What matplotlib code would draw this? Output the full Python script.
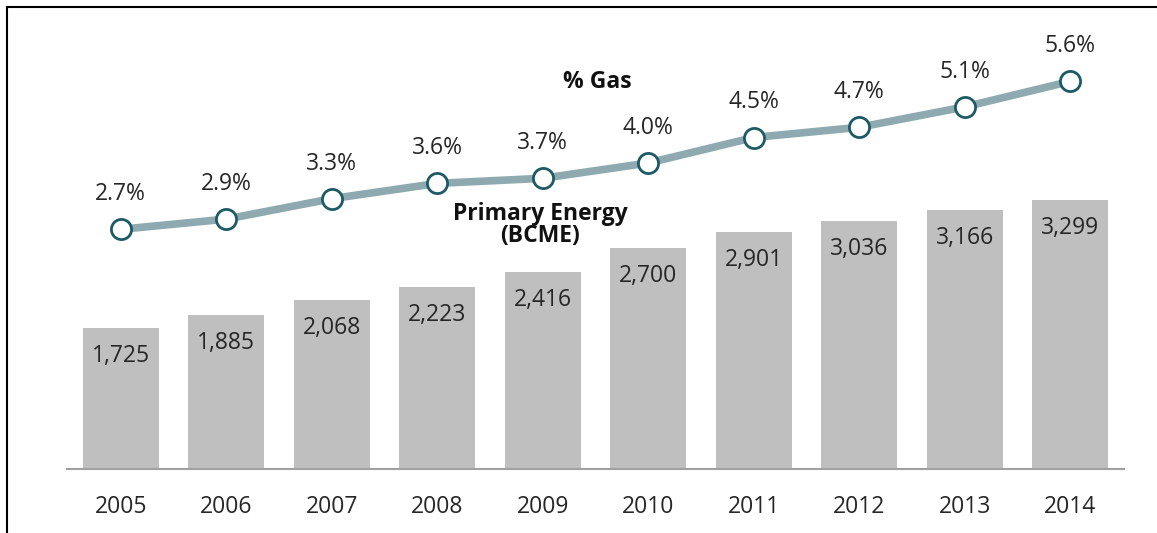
import matplotlib.pyplot as plt
from matplotlib.lines import Line2D

years = ['2005', '2006', '2007', '2008', '2009', '2010', '2011', '2012', '2013', '2014']
energy = [1725, 1885, 2068, 2223, 2416, 2700, 2901, 3036, 3166, 3299]
gas_pct = [2.7, 2.9, 3.3, 3.6, 3.7, 4.0, 4.5, 4.7, 5.1, 5.6]

plt.rcParams['font.family'] = ['Open Sans', 'DejaVu Sans']
W, H = 1157, 533
fig = plt.figure(figsize=(W / 100, H / 100), dpi=100)

# axes box in pixels: left 67, right 1124, bottom 469 (from top), top 10
rect = [67 / W, 64 / H, 1057 / W, 459 / H]
ax = fig.add_axes(rect)
x = list(range(len(years)))
ax.bar(x, energy, width=0.72, color='#bfbfbf', zorder=1)
ax.set_xlim(-0.51, 9.51)
ax.set_ylim(0, 5620)
ax.set_yticks([])
ax.set_xticks(x)
ax.set_xticklabels(years, fontsize=16.5, color='#262626')
ax.tick_params(axis='x', length=0, pad=19)
for s in ['top', 'right', 'left']:
    ax.spines[s].set_visible(False)
ax.spines['bottom'].set_color('#a0a0a0')
ax.spines['bottom'].set_linewidth(1.5)
for xi, v in zip(x, energy):
    ax.annotate(f'{v:,}', (xi, v), xytext=(0, -28), textcoords='offset pixels',
                ha='center', va='center', fontsize=16.5, color='#262626')

ax2 = ax.twinx()
ax2.set_ylim(-2, 7)
ax2.plot(x, gas_pct, color='#8eaab0', lw=5.5, zorder=2, solid_capstyle='round')
ax2.plot(x, gas_pct, ls='none', marker='o', ms=14.5, mfc='white', mec='#1e5a66', mew=2, zorder=3)
for xi, v in zip(x, gas_pct):
    ax2.annotate(f'{v:.1f}%', (xi, v), xytext=(0, 35), textcoords='offset pixels',
                 ha='center', va='center', fontsize=16.5, color='#262626')
ax2.axis('off')

fig.text(597 / W, 1 - 82 / H, '% Gas', ha='center', va='center',
         fontsize=16.5, fontweight='bold', color='#111111')
fig.text(540 / W, 1 - 225 / H, 'Primary Energy\n(BCME)', ha='center', va='center',
         fontsize=16.5, fontweight='bold', color='#111111', linespacing=0.9)

# outer frame (left and top only)
fig.add_artist(Line2D([7 / W, 7 / W], [0, 1 - 7 / H], color='black', lw=1.5))
fig.add_artist(Line2D([7 / W, 1], [1 - 7 / H, 1 - 7 / H], color='black', lw=1.5))

fig.savefig('out.png', dpi=100)
